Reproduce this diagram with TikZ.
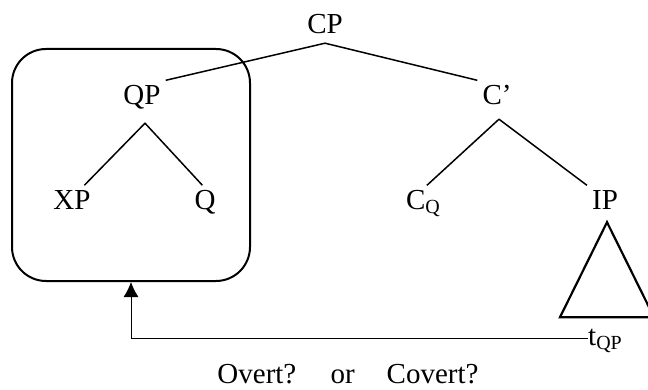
\documentclass[tikz,border=0pt]{standalone}
\usepackage{fontspec}
\setmainfont{Liberation Serif}
\usetikzlibrary{arrows.meta, positioning}
\newcommand{\lowsub}[1]{\raisebox{-4pt}{\fontsize{20pt}{20pt}\selectfont #1}}
\tikzset{
	syn/.style={inner sep=5pt, text height=19pt, text depth=0pt, font=\fontsize{29pt}{31pt}\selectfont},
	trace/.style={inner sep=0pt, text height=14pt, text depth=0pt, font=\fontsize{29pt}{31pt}\selectfont},
	branch/.style={line width=1.5pt, line join=round},
	movebox/.style={rectangle, rounded corners=34pt, draw, line width=2pt, minimum width=238pt, minimum height=232pt},
	roof/.style={line width=2.2pt, line join=miter},
	movearrow/.style={-{Latex[length=15pt, width=15pt]}, line width=0.9pt},
	question/.style={inner sep=0pt, font=\fontsize{29pt}{31pt}\selectfont},
}

\begin{document}
\begin{tikzpicture}[x=1pt, y=-1pt, on grid]
		\useasboundingbox (0,0) rectangle (648,390);
		\node[syn] (CP) at (325,24) {CP};
		\node[syn, below left=71pt and 183pt of CP] (QP) {QP};
		\node[syn, below right=71pt and 172pt of CP] (Cbar) {C’};
		\node[syn, below left=105pt and 70pt of QP] (XP) {XP};
		\node[syn, below right=105pt and 63pt of QP] (Q) {Q};
		\node[syn, below left=105pt and 74pt of Cbar] (CQ) {C\lowsub{Q}};
		\node[syn, below right=105pt and 108pt of Cbar] (IP) {IP};
		\node[trace, below=138pt of IP] (tQP) {t\lowsub{QP}};
		\node[movebox] (QPbox) at (131,165) {};
		\node[question] (ask) at (348,374) {Overt?\hspace{0.85em} or\hspace{0.85em} Covert?};
		\draw[branch] (QP.north east) -- ([yshift=-4.5pt]CP.south) -- (Cbar.north west);
		\draw[branch] (XP.50) -- ([shift={(3pt,-13.5pt)}]QP.south) -- (Q.100);
		\draw[branch] (CQ.75) -- ([shift={(2pt,-9.5pt)}]Cbar.south) -- (IP.north west);
		\draw[roof] ([shift={(2pt,-7.5pt)}]IP.south) -- ++(-47,95) -- ++(94,0) -- cycle;
		\draw[movearrow] (tQP.west) -| (QPbox.south);
	\end{tikzpicture}
\end{document}
